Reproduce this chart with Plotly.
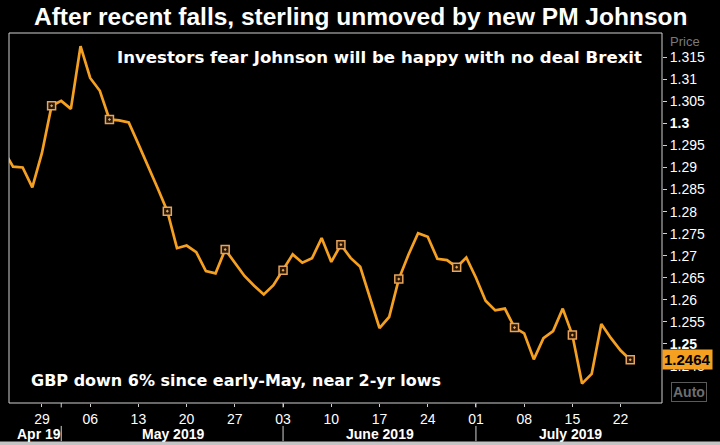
import pandas as pd
import plotly.graph_objects as go

# ---------------- data ----------------
dates = pd.bdate_range("2019-04-23", "2019-07-23")
gbpusd = [1.2940, 1.2902, 1.2900, 1.2855, 1.2933, 1.3040, 1.3051, 1.3033, 1.3175, 1.3103,
          1.3074, 1.3009, 1.3007, 1.3002, 1.2953, 1.2904, 1.2853, 1.2801, 1.2717, 1.2723,
          1.2708, 1.2665, 1.2660, 1.2714, 1.2684, 1.2654, 1.2632, 1.2612, 1.2633, 1.2667,
          1.2703, 1.2684, 1.2694, 1.2740, 1.2686, 1.2725, 1.2695, 1.2675, 1.2607, 1.2536,
          1.2561, 1.2647, 1.2702, 1.2751, 1.2743, 1.2693, 1.2690, 1.2674, 1.2696, 1.2650,
          1.2598, 1.2576, 1.2580, 1.2537, 1.2524, 1.2465, 1.2513, 1.2529, 1.2580, 1.2520,
          1.2410, 1.2432, 1.2545, 1.2513, 1.2485, 1.2464]
marker_dates = ["2019-04-30", "2019-05-08", "2019-05-16", "2019-05-24", "2019-06-03",
                "2019-06-11", "2019-06-19", "2019-06-27", "2019-07-05", "2019-07-15",
                "2019-07-23"]
tick_dates = ["2019-04-29", "2019-05-06", "2019-05-13", "2019-05-20", "2019-05-27",
              "2019-06-03", "2019-06-10", "2019-06-17", "2019-06-24", "2019-07-01",
              "2019-07-08", "2019-07-15", "2019-07-22"]
tick_labels = ["29", "06", "13", "20", "27", "03", "10", "17", "24", "01", "08", "15", "22"]
y_ticks = [1.245, 1.25, 1.255, 1.26, 1.265, 1.27, 1.275, 1.28, 1.285, 1.29, 1.295, 1.3,
           1.305, 1.31, 1.315]
y_tick_labels = ["1.245", "<b>1.25</b>", "1.255", "1.26", "1.265", "1.27", "1.275", "1.28",
                 "1.285", "1.29", "1.295", "<b>1.3</b>", "1.305", "1.31", "1.315"]
month_labels = ["Apr 19", "May 2019", "June 2019", "July 2019"]
month_label_pos = ["2019-04-26 17:00", "2019-05-16 14:00", "2019-06-17 02:00", "2019-07-12 19:00"]
month_starts = ["2019-05-01", "2019-06-03", "2019-07-01"]
last_price = 1.2464

title = "After recent falls, sterling unmoved by new PM Johnson"
subtitle = "Investors fear Johnson will be happy with no deal Brexit"
note = "GBP down 6% since early-May, near 2-yr lows"

# ---------------- figure ----------------
ORANGE = "#f5a021"
date_strs = [d.strftime("%Y-%m-%d") for d in dates]
price_map = dict(zip(date_strs, gbpusd))
marker_vals = [price_map[d] for d in marker_dates]

fig = go.Figure()
fig.add_trace(go.Scatter(x=date_strs, y=gbpusd, mode="lines",
                         line=dict(color=ORANGE, width=2.7), hoverinfo="x+y"))
fig.add_trace(go.Scatter(x=marker_dates, y=marker_vals, mode="markers",
                         marker=dict(symbol="square-dot", size=8, color="#2a1800",
                                     line=dict(color="#e6a45e", width=1.5)),
                         hoverinfo="skip"))

ARIAL = "Liberation Sans, Arial, sans-serif"
tah = "DejaVu Sans, Verdana, sans-serif"

shapes = [
    dict(type="rect", xref="paper", yref="paper", x0=0, x1=1, y0=0, y1=1,
         line=dict(color="#d0d0d0", width=1), layer="above"),
    dict(type="rect", xref="paper", yref="paper", x0=-0.02, x1=1.1, y0=-0.115, y1=-0.104,
         fillcolor="#c4c4c4", line=dict(width=0)),
]
for m in month_starts:
    shapes.append(dict(type="line", xref="x", yref="paper", x0=m, x1=m, y0=-0.062, y1=-0.103,
                       line=dict(color="#d0d0d0", width=1)))
    shapes.append(dict(type="line", xref="x", yref="paper", x0=m, x1=m, y0=0, y1=-0.012,
                       line=dict(color="#d0d0d0", width=1)))

annotations = [
    dict(text="<b>" + title + "</b>", xref="paper", yref="paper", x=0.539, y=1.0,
         yshift=17, xanchor="center", yanchor="middle", showarrow=False,
         font=dict(family=ARIAL, size=24.5, color="white")),
    dict(text="<b>" + subtitle + "</b>", xref="paper", yref="paper", x=0.567, y=0.935,
         xanchor="center", yanchor="middle", showarrow=False,
         font=dict(family=tah, size=16.6, color="white")),
    dict(text="<b>" + note + "</b>", xref="paper", yref="paper", x=0.031, y=0.062,
         xanchor="left", yanchor="middle", showarrow=False,
         font=dict(family=tah, size=16, color="white")),
    dict(text="Price", xref="paper", yref="paper", x=1.0, xshift=6, y=0.978,
         xanchor="left", yanchor="middle", showarrow=False,
         font=dict(family=ARIAL, size=13, color="#7a7a7a")),
    dict(text="<b>%.4f</b>" % last_price, xref="paper", yref="y", x=1.0, y=last_price,
         xanchor="left", yanchor="middle", showarrow=False, bgcolor=ORANGE,
         borderpad=1, font=dict(family=ARIAL, size=15, color="black")),
    dict(text="<b>Auto</b>", xref="paper", yref="paper", x=1.0, xshift=9, y=0.03,
         xanchor="left", yanchor="middle", showarrow=False, bordercolor="#5a5a5a",
         borderwidth=1, borderpad=1,
         font=dict(family=ARIAL, size=14, color="#6e6e6e")),
]
for lab, pos in zip(month_labels, month_label_pos):
    annotations.append(dict(text="<b>" + lab + "</b>", xref="x", yref="paper", x=pos,
                            y=-0.084, xanchor="center", yanchor="middle", showarrow=False,
                            font=dict(family=ARIAL, size=14, color="white")))

fig.update_layout(
    width=720, height=445,
    margin=dict(l=9, r=58, t=33, b=42),
    paper_bgcolor="black", plot_bgcolor="black",
    showlegend=False,
    shapes=shapes, annotations=annotations,
    xaxis=dict(type="date", range=["2019-04-23 14:00", "2019-07-26 07:00"],
               rangebreaks=[dict(bounds=["sat", "mon"])],
               tickvals=tick_dates, ticktext=tick_labels,
               ticks="outside", ticklen=3, tickcolor="#d0d0d0",
               tickfont=dict(family=ARIAL, size=14, color="white"),
               showgrid=False, zeroline=False, showline=False, fixedrange=True),
    yaxis=dict(side="right", range=[1.2366, 1.3205],
               tickvals=y_ticks, ticktext=y_tick_labels,
               ticks="outside", ticklen=4, tickcolor="#d0d0d0",
               tickfont=dict(family=ARIAL, size=14, color="white"),
               showgrid=False, zeroline=False, showline=False, fixedrange=True),
)

fig.write_html("out.html", config={"displayModeBar": False},
               post_script="document.body.style.margin='0px';"
                           "document.body.style.background='black';")
